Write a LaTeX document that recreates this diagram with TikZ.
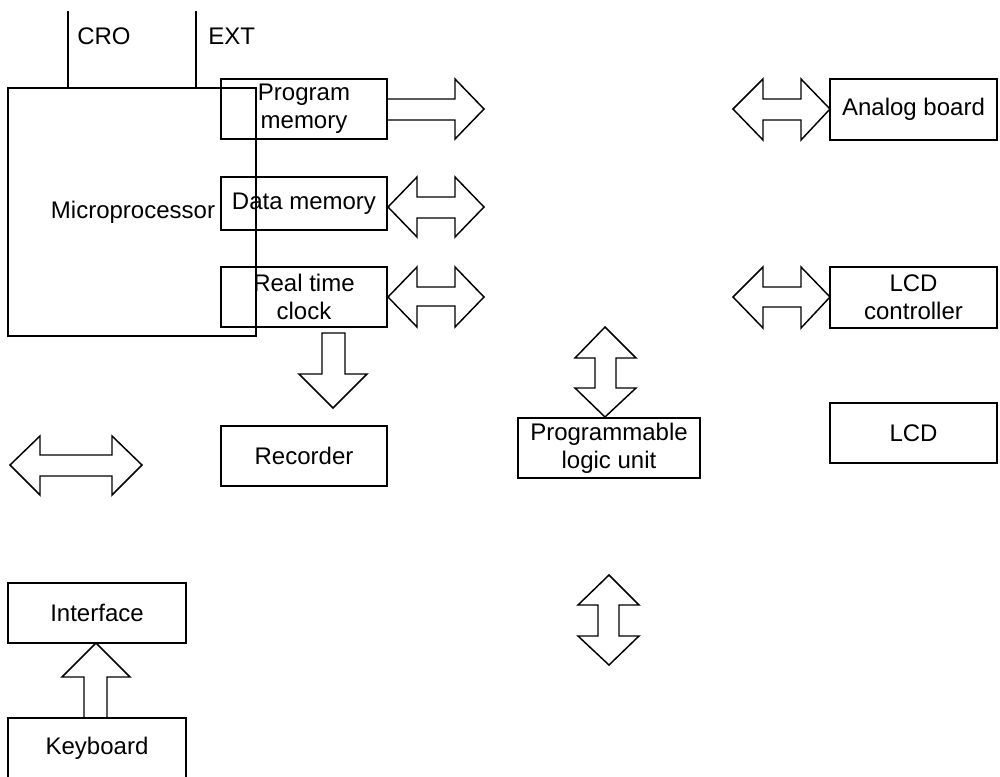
\documentclass[tikz,border=0pt]{standalone}
\usepackage{fontspec}
\setmainfont{Liberation Sans}
\begin{document}
\begin{tikzpicture}[x=0.75pt,y=-0.75pt,
  box/.style={draw, line width=1.5pt, inner sep=0pt, align=center,
    font=\fontsize{18}{21}\selectfont},
  blk/.style={draw, line width=1.1pt, line join=miter},
  lbl/.style={font=\fontsize{18}{21}\selectfont, inner sep=0pt, anchor=west}]
\useasboundingbox (0,0) rectangle (1000,776);

% boxes
\node[box, minimum width=186pt, minimum height=186pt] (mp) at (132,212) {};
\node[font=\fontsize{18}{21}\selectfont] (mptxt) at (133,212) {Microprocessor};
\node[box, minimum width=124.5pt, minimum height=45pt] (pm) at (304,109) {Program\\memory};
\node[box, minimum width=124.5pt, minimum height=39.75pt] (dm) at (304,203.5) {Data memory};
\node[box, minimum width=124.5pt, minimum height=45pt] (rtc) at (304,297) {Real time\\clock};
\node[box, minimum width=124.5pt, minimum height=45pt] (rec) at (304,456) {Recorder};
\node[box, minimum width=125.25pt, minimum height=45.75pt] (ana) at (913.5,109.5) {Analog board};
\node[box, minimum width=125.25pt, minimum height=45.75pt] (lcdc) at (913.5,297.5) {LCD\\controller};
\node[box, minimum width=125.25pt, minimum height=45pt] (lcd) at (913.5,433) {LCD};
\node[box, minimum width=136.5pt, minimum height=45pt] (plu) at (609,448) {Programmable\\logic unit};
\node[box, minimum width=133.5pt, minimum height=45pt] (intf) at (97,613) {Interface};
\node[box, minimum width=133.5pt, minimum height=45pt] (kbd) at (97,748) {Keyboard};

% CRO / EXT lines and labels
\coordinate (crotop) at (68,11);
\coordinate (exttop) at (196,11);
\draw[line width=0.8pt] (crotop) -- (crotop |- mp.north);
\draw[line width=0.8pt] (exttop) -- (exttop |- mp.north);
\node[lbl] (cro) at (77,36) {CRO};
\node[lbl] (ext) at (208,36) {EXT};

% block arrows
% program memory -> (single)
\draw[blk] (387,99) -- (455,99) -- (455,79) -- (484,109) -- (455,139) -- (455,120) -- (387,120);
% data memory double
\draw[blk] (388,207) -- (417,177) -- (417,197) -- (455,197) -- (455,177) -- (484,207)
  -- (455,237) -- (455,218) -- (417,218) -- (417,237) -- cycle;
% real time clock double
\draw[blk] (388,297) -- (417,267) -- (417,287) -- (455,287) -- (455,267) -- (484,297)
  -- (455,327) -- (455,306) -- (417,306) -- (417,327) -- cycle;
% down arrow to recorder
\draw[blk] (322,333) -- (345,333) -- (345,374) -- (367,374) -- (333,408) -- (299,374) -- (322,374) -- cycle;
% left double arrow
\draw[blk] (10,465) -- (40,436) -- (40,455) -- (112,455) -- (112,436) -- (142,465)
  -- (112,495) -- (112,476) -- (40,476) -- (40,495) -- cycle;
% analog board double
\draw[blk] (733,109) -- (763,79) -- (763,99) -- (801,99) -- (801,79) -- (830,109)
  -- (801,140) -- (801,120) -- (763,120) -- (763,140) -- cycle;
% LCD controller double
\draw[blk] (733,297) -- (763,267) -- (763,287) -- (801,287) -- (801,267) -- (830,297)
  -- (801,328) -- (801,307) -- (763,307) -- (763,328) -- cycle;
% PLU vertical double
\draw[blk] (605,327) -- (636,358) -- (616,358) -- (616,388) -- (636,388) -- (605,417)
  -- (575,388) -- (595,388) -- (595,358) -- (575,358) -- cycle;
% lower vertical double
\draw[blk] (609,575) -- (639,605) -- (619,605) -- (619,636) -- (639,636) -- (609,665)
  -- (578,636) -- (598,636) -- (598,605) -- (578,605) -- cycle;
% keyboard -> interface
\draw[blk] (96,643) -- (130,677) -- (107,677) -- (107,718) -- (84,718) -- (84,677) -- (62,677) -- cycle;
\end{tikzpicture}
\end{document}
